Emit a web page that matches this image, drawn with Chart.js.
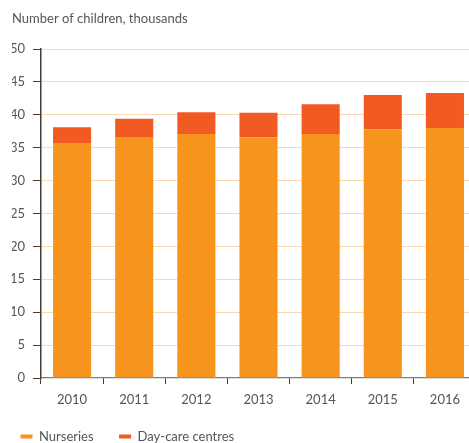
<!DOCTYPE html>
<html>
<head>
<meta charset="utf-8">
<script src="https://cdn.jsdelivr.net/npm/chart.js@4/dist/chart.umd.min.js"></script>
<style>
  html, body { margin: 0; padding: 0; background: #fff; overflow: hidden; }
  #wrap { width: 476px; height: 443px; }
</style>
</head>
<body>
<div id="wrap"><canvas id="barChart" width="476" height="443"></canvas></div>
<script>
const years = ['2010', '2011', '2012', '2013', '2014', '2015', '2016'];
const nurseries = [35.7, 36.5, 37.1, 36.6, 37.1, 37.8, 38.0];
const dayCare = [2.4, 2.9, 3.3, 3.7, 4.5, 5.2, 5.3];
const yTicks = [0, 5, 10, 15, 20, 25, 30, 35, 40, 45, 50];

const textColor = '#555';
const axisColor = '#4a3b33';
const font = { family: 'Lato', size: 13, weight: 'normal' };

// nudge the legend left so the first swatch sits under the axis labels
const legendShift = {
  id: 'legendShift',
  afterLayout(chart) {
    chart.legend.left = -5;
  }
};

new Chart(document.getElementById('barChart'), {
  type: 'bar',
  data: {
    labels: years,
    datasets: [
      { label: 'Nurseries', data: nurseries, backgroundColor: '#f7941d', borderWidth: 0 },
      { label: 'Day-care centres', data: dayCare, backgroundColor: '#f15a22', borderWidth: 0 }
    ]
  },
  options: {
    responsive: false,
    animation: false,
    layout: { padding: { left: 12, right: 0, top: 0, bottom: 0 } },
    datasets: { bar: { barPercentage: 0.613, categoryPercentage: 1 } },
    plugins: {
      title: {
        display: true,
        text: 'Number of children, thousands',
        align: 'start',
        color: textColor,
        font: font,
        padding: { top: 11, bottom: 22.4 }
      },
      legend: {
        position: 'bottom',
        align: 'start',
        maxHeight: 38.5,
        labels: {
          boxWidth: 12,
          boxHeight: 4,
          padding: 25.5,
          color: textColor,
          font: font
        }
      },
      tooltip: { enabled: false }
    },
    scales: {
      x: {
        stacked: true,
        offset: true,
        afterFit: (s) => { s.height = 26.5; },
        grid: {
          offset: true,
          drawOnChartArea: false,
          tickLength: 6,
          tickColor: axisColor
        },
        border: { color: '#7d7d7d', width: 1.2 },
        ticks: { color: textColor, font: font, padding: 8, maxRotation: 0 }
      },
      y: {
        stacked: true,
        min: 0,
        max: 50,
        afterFit: (s) => { s.width = 29; },
        afterBuildTicks: (s) => { s.ticks = yTicks.map(v => ({ value: v })); },
        grid: {
          color: (ctx) => ctx.tick && ctx.tick.value === 0 ? 'rgba(0,0,0,0)' : '#fcd8b0',
          lineWidth: 1,
          tickLength: 8,
          tickColor: axisColor
        },
        border: { color: axisColor, width: 1.5 },
        ticks: { color: textColor, font: font, padding: 8 }
      }
    }
  },
  plugins: [legendShift]
});
</script>
</body>
</html>
